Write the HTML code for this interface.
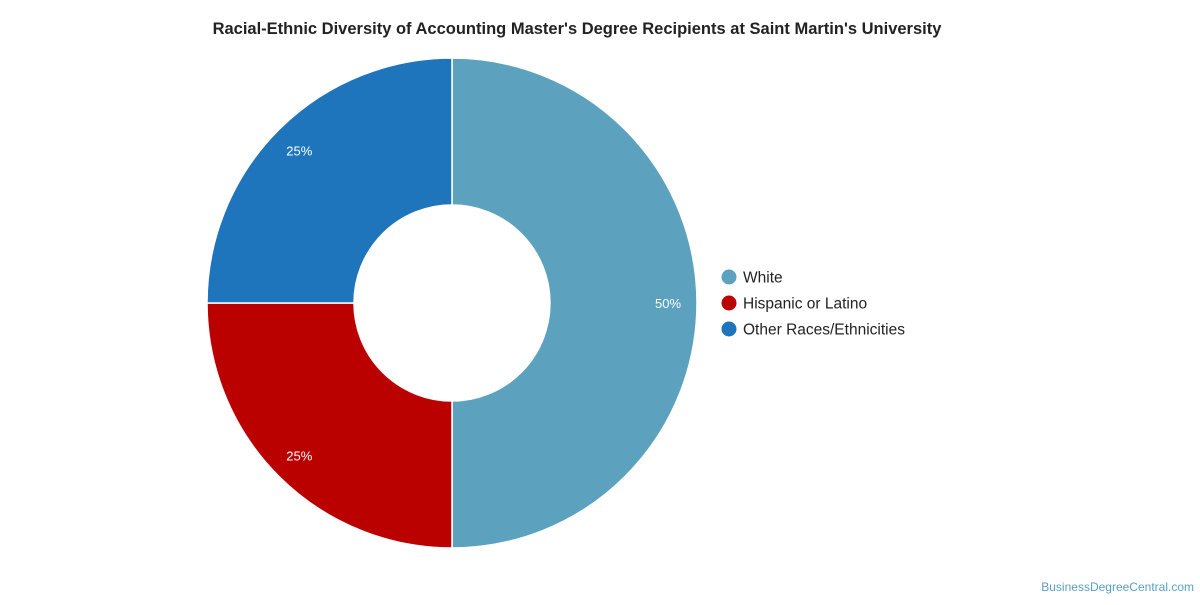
<!DOCTYPE html>
<html><head><meta charset="utf-8"><style>
body{margin:0;background:#fff;font-family:"Liberation Sans",Arial,sans-serif;}
</style></head><body>
<svg width="1200" height="600" xmlns="http://www.w3.org/2000/svg">
<text x="577" y="34" text-anchor="middle" font-size="16.5" font-weight="bold" fill="#222">Racial-Ethnic Diversity of Accounting Master's Degree Recipients at Saint Martin's University</text>
<g id="slices"></g>
<g id="legend"></g>
<text x="1194" y="591" text-anchor="end" font-size="12" fill="#5aa0c6">BusinessDegreeCentral.com</text>
</svg>
<script>
const categories=["White","Hispanic or Latino","Other Races/Ethnicities"];
const values=[50,25,25];
const colors=["#5ca2bf","#bb0000","#1f75bb"];
const cx=452,cy=303,R=245,r=98,lr=216;
const ns="http://www.w3.org/2000/svg";
const g=document.getElementById('slices');
const total=values.reduce((a,b)=>a+b,0);
let a0=0;
function pt(rad,a){return [cx+rad*Math.sin(a),cy-rad*Math.cos(a)];}
values.forEach((v,i)=>{
 const a1=a0+v/total*2*Math.PI;
 const large=(a1-a0)>Math.PI?1:0;
 const [x0,y0]=pt(R,a0),[x1,y1]=pt(R,a1),[x2,y2]=pt(r,a1),[x3,y3]=pt(r,a0);
 const p=document.createElementNS(ns,'path');
 p.setAttribute('d',`M${x0},${y0}A${R},${R} 0 ${large} 1 ${x1},${y1}L${x2},${y2}A${r},${r} 0 ${large} 0 ${x3},${y3}Z`);
 p.setAttribute('fill',colors[i]);p.setAttribute('stroke','#fff');p.setAttribute('stroke-width','1.5');
 
 
 g.appendChild(p);
 const am=(a0+a1)/2;const [lx,ly]=pt(lr,am);
 const t=document.createElementNS(ns,'text');
 t.setAttribute('x',lx);t.setAttribute('y',ly+5);t.setAttribute('text-anchor','middle');
 t.setAttribute('font-size','13');t.setAttribute('fill','#fff');
 t.textContent=v+'%';
 
 
 g.appendChild(t);
 a0=a1;
});
const lg=document.getElementById('legend');
categories.forEach((c,i)=>{
 const y=277+i*26;
 const e=document.createElementNS(ns,'g');
 
 
 const ci=document.createElementNS(ns,'circle');
 ci.setAttribute('cx',729);ci.setAttribute('cy',y);ci.setAttribute('r',7.5);ci.setAttribute('fill',colors[i]);
 const t=document.createElementNS(ns,'text');
 t.setAttribute('x',743);t.setAttribute('y',y+5.5);t.setAttribute('font-size','15.5');t.setAttribute('fill','#222');
 t.textContent=c;
 e.appendChild(ci);e.appendChild(t);lg.appendChild(e);
});
</script>
</body></html>
